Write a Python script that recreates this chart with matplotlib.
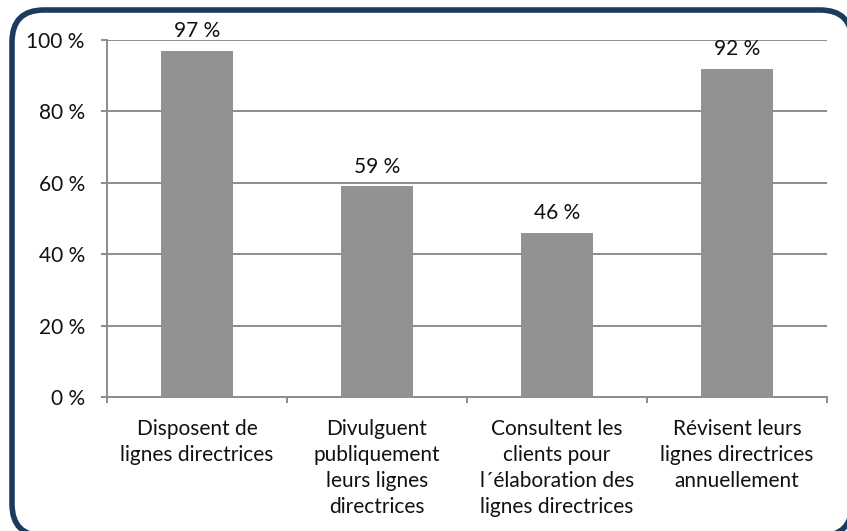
import matplotlib
matplotlib.use("Agg")
import matplotlib.pyplot as plt
from matplotlib.patches import FancyBboxPatch

categories = [
    "Disposent de\nlignes directrices",
    "Divulguent\npubliquement\nleurs lignes\ndirectrices",
    "Consultent les\nclients pour\nl\u00b4\u00e9laboration des\nlignes directrices",
    "R\u00e9visent leurs\nlignes directrices\nannuellement",
]
values = [97, 59, 46, 92]
yticks = [0, 20, 40, 60, 80, 100]

plt.rcParams['font.family'] = ['Lato', 'DejaVu Sans']

W, H = 847, 531
fig = plt.figure(figsize=(W / 100, H / 100), dpi=100)

bg = fig.add_axes([0, 0, 1, 1])
bg.set_xlim(0, W)
bg.set_ylim(H, 0)
bg.axis('off')
bg.add_patch(FancyBboxPatch((12, 10), 840, 526,
                            boxstyle="round,pad=0,rounding_size=32",
                            linewidth=4, edgecolor='#1b3a5e', facecolor='white'))

FS = 15
ax = fig.add_axes([107 / W, 1 - 397 / H, 720 / W, 357 / H])
ax.set_facecolor('none')
x = list(range(len(categories)))
bars = ax.bar(x, values, width=0.395, color='#929292', zorder=3)
ax.set_xlim(-0.5, len(categories) - 0.5)
ax.set_ylim(0, 100)
ax.set_yticks(yticks)
ax.set_yticklabels([f"{v} %" for v in yticks], fontsize=FS, color='#111111')
ax.yaxis.grid(True, color='#8c8c8c', linewidth=1.4, zorder=0)
ax.set_xticks(x)
ax.set_xticklabels(categories, fontsize=FS, color='#111111', linespacing=1.38, va='top')
ax.set_xticks([i - 0.5 for i in range(len(categories) + 1)], minor=True)
ax.tick_params(axis='x', which='major', length=0, pad=16)
ax.tick_params(axis='x', which='minor', length=4, color='#8c8c8c', width=1.4)
ax.tick_params(axis='y', length=4, color='#8c8c8c', width=1.4, pad=12)
for s in ['top', 'right']:
    ax.spines[s].set_visible(False)
for s in ['left', 'bottom']:
    ax.spines[s].set_color('#8c8c8c')
    ax.spines[s].set_linewidth(1.4)
ax.bar_label(bars, labels=[f"{v} %" for v in values], padding=7, fontsize=FS, color='#111111')

fig.savefig("out.png", dpi=100)
